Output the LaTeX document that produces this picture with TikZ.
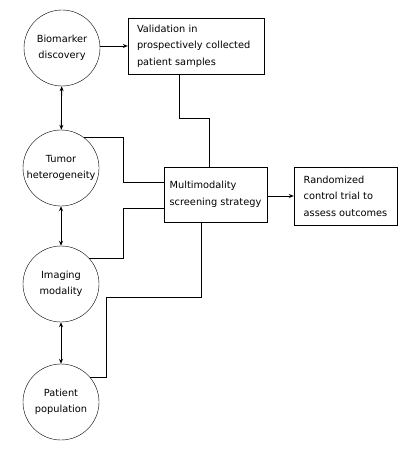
\documentclass[tikz,border=0pt]{standalone}
\usepackage{fontspec}
\setmainfont{DejaVu Sans}
\usetikzlibrary{arrows.meta}

\tikzset{
  factor/.style={draw, circle, minimum size=76pt, inner sep=0pt, align=center,
    font=\fontsize{9.8}{16.5}\selectfont},
  stagebox/.style={draw, rectangle, inner xsep=5pt, inner ysep=0pt, align=left,
    font=\fontsize{9.8}{16.5}\selectfont},
  link/.style={line width=0.8pt},
  >={Stealth[length=5pt,width=4pt]}
}

\begin{document}
\begin{tikzpicture}[x=1pt,y=-1pt]
        \useasboundingbox (0,0) rectangle (411,452);

        % factors on the left
        \node[factor] (bio) at (62,48) {Biomarker\\discovery};
        \node[factor] (tumor) at (61,168) {Tumor\\heterogeneity};
        \node[factor] (imaging) at (61,284) {Imaging\\modality};
        \node[factor] (patient) at (61,402) {Patient\\population};

        % boxes
        \node[stagebox, minimum width=136pt, minimum height=56pt, inner xsep=9pt, text width=118pt] (valid) at (196,46)
          {Validation in\\prospectively collected\\patient samples};
        \node[stagebox, minimum width=103pt, minimum height=55pt] (multi) at (215.5,194.5)
          {Multimodality\\screening strategy};
        \node[stagebox, minimum width=103pt, minimum height=58pt] (trial) at (345.5,196)
          {Randomized\\control trial to\\assess outcomes};

        % arrows
        \draw[link, <->] (bio) -- (tumor);
        \draw[link, <->] (tumor) -- (imaging);
        \draw[link, <->] (imaging) -- (patient);
        \draw[link, ->] (bio.east |- valid.west) -- (valid.west);
        \draw[link, ->] (multi.east |- trial.west) -- (trial.west);

        % elbow connectors into the strategy box
        \draw[link] ([xshift=-17pt]valid.south) -- ++(0,44) -| ([xshift=-6pt]multi.north);
        \draw[link] (tumor.53) -| ([xshift=-40pt,yshift=12pt]multi.west) -- ([yshift=12pt]multi.west);
        \draw[link] (imaging.43) -| ([xshift=-40pt,yshift=-14pt]multi.west) -- ([yshift=-14pt]multi.west);
        \draw[link] (patient.40) -- ++(16,0) |- ([xshift=-14.5pt,yshift=-75pt]multi.south) -- ([xshift=-14.5pt]multi.south);
\end{tikzpicture}
\end{document}
